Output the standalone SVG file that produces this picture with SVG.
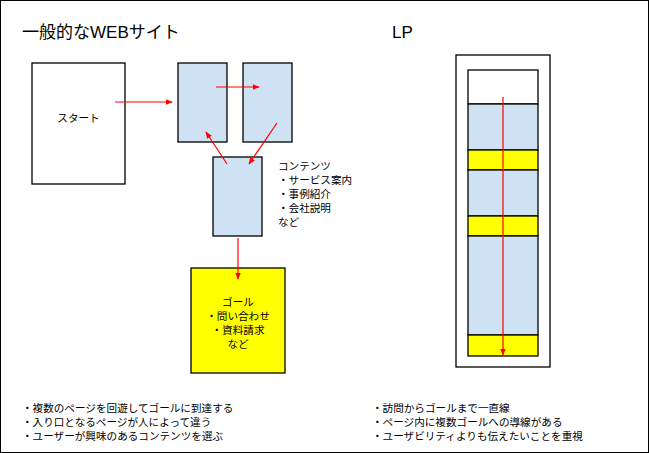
<svg xmlns="http://www.w3.org/2000/svg" width="649" height="453" viewBox="0 0 649 453">
<style>
text{font-family:"Liberation Sans","Noto Sans CJK JP",sans-serif;fill:#000}
.t{font-size:10.6px}
.h{font-size:17px}
.box{stroke:#000;stroke-width:1.3}
.blue{fill:#cfe2f3}
.yel{fill:#ffff00}
.wht{fill:#fff}
.c{stroke:#ff0000;stroke-width:1.2;fill:none;marker-end:url(#ah)}
</style>
<defs>
<marker id="ah" viewBox="0 0 10 10" refX="9" refY="5" markerWidth="7" markerHeight="7" markerUnits="userSpaceOnUse" orient="auto">
<path d="M0,1 L10,5 L0,9 z" fill="#ff0000"/>
</marker>
</defs>
<rect x="0.5" y="0.5" width="648" height="452" fill="#fff" stroke="#000" stroke-width="1"/>
<text class="h" x="22" y="38">一般的なWEBサイト</text>
<text class="h" x="392" y="38">LP</text>
<g id="start"><rect class="box wht" x="32" y="63" width="93" height="121"/><text class="t" x="78.5" y="122" text-anchor="middle">スタート</text></g>
<g id="pageA"><rect class="box blue" x="178" y="63" width="49" height="79"/></g>
<g id="pageB"><rect class="box blue" x="243" y="63" width="49" height="79"/></g>
<g id="pageC"><rect class="box blue" x="213" y="157" width="49" height="79"/></g>
<g id="contents-label"><text class="t" x="278"><tspan x="278" y="170">コンテンツ</tspan><tspan x="278" y="184">・サービス案内</tspan><tspan x="278" y="198">・事例紹介</tspan><tspan x="278" y="212">・会社説明</tspan><tspan x="278" y="226">など</tspan></text></g>
<g id="goal"><rect class="box yel" x="191" y="268" width="94" height="105"/><text class="t" text-anchor="middle"><tspan x="238" y="306">ゴール</tspan><tspan x="238" y="320">・問い合わせ</tspan><tspan x="238" y="334">・資料請求</tspan><tspan x="238" y="348">など</tspan></text></g>
<g id="lp">
<rect class="box wht" x="456" y="55" width="94" height="312"/>
<rect class="box wht" x="468" y="70" width="70" height="34"/>
<rect class="box blue" x="468" y="104" width="70" height="46"/>
<rect class="box yel" x="468" y="150" width="70" height="20"/>
<rect class="box blue" x="468" y="170" width="70" height="46"/>
<rect class="box yel" x="468" y="216" width="70" height="20"/>
<rect class="box blue" x="468" y="236" width="70" height="99"/>
<rect class="box yel" x="468" y="335" width="70" height="21"/>
</g>
<g id="connectors">
<line class="c" x1="115" y1="102" x2="172" y2="102"/>
<line class="c" x1="216" y1="87" x2="259" y2="87"/>
<line class="c" x1="277" y1="123" x2="249" y2="164"/>
<line class="c" x1="227" y1="164" x2="206" y2="132"/>
<line class="c" x1="238" y1="238" x2="238" y2="279"/>
<line class="c" x1="503" y1="97" x2="503" y2="355"/>
</g>
<g id="notes">
<text class="t"><tspan x="22" y="412">・複数のページを回遊してゴールに到達する</tspan><tspan x="22" y="426">・入り口となるページが人によって違う</tspan><tspan x="22" y="440">・ユーザーが興味のあるコンテンツを選ぶ</tspan></text>
<text class="t"><tspan x="372" y="412">・訪問からゴールまで一直線</tspan><tspan x="372" y="426">・ページ内に複数ゴールへの導線がある</tspan><tspan x="372" y="440">・ユーザビリティよりも伝えたいことを重視</tspan></text>
</g>
</svg>
